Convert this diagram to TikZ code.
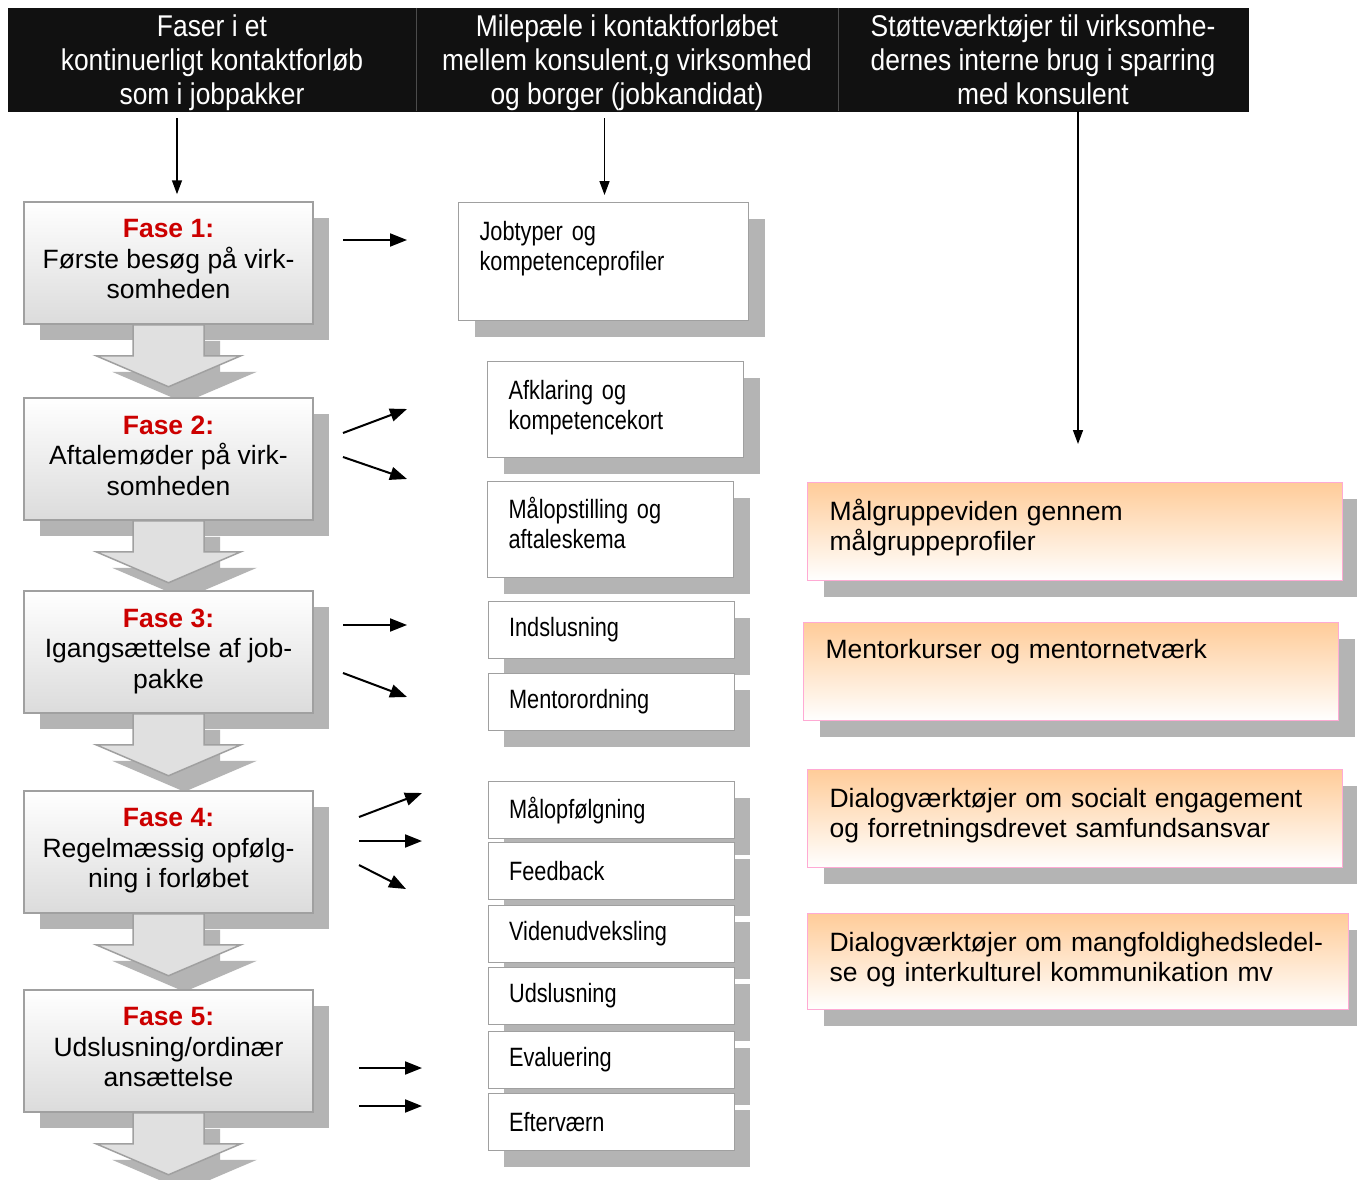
\documentclass[tikz,border=0pt]{standalone}
\usepackage{fontspec}
\setmainfont{Liberation Sans}
\newfontfamily\narrowfont[FakeStretch=0.82, WordSpace=0.8]{Liberation Sans}
\newfontfamily\headfont[FakeStretch=0.88]{Liberation Sans}
\usetikzlibrary{shadows,arrows.meta}

\definecolor{headblack}{HTML}{111111}
\definecolor{fasered}{HTML}{CC0000}
\definecolor{boxline}{HTML}{A0A0A0}
\definecolor{shadowgray}{HTML}{B4B4B4}
\definecolor{peach}{HTML}{FFCC99}
\definecolor{pinkline}{HTML}{FFAAD4}

% block arrow hanging under a phase box
\newcommand{\fasearrow}[1]{%
  \path[blockarrow] (#1.south) ++(-35.5,0) -- ++(0,31) -- ++(-37,0) -- ++(72.5,31)
    -- ++(72.5,-31) -- ++(-37,0) -- ++(0,-31) -- cycle;}

\begin{document}
\begin{tikzpicture}[x=1pt, y=-1pt,
  >={Triangle[length=17pt, width=13pt]},
  shadowed/.style={drop shadow={shadow xshift=16pt, shadow yshift=-16pt, fill=shadowgray, opacity=1}},
  headcell/.style={fill=headblack, draw=headblack, text=white, align=center, minimum height=103pt,
    inner sep=0pt, font=\headfont\fontsize{30}{34}\selectfont},
  fasebox/.style={shadowed, draw=boxline, line width=1.5pt, top color=white, bottom color=black!14,
    minimum width=289pt, minimum height=122pt, inner sep=0pt, align=center,
    font=\fontsize{26.5}{30.5}\selectfont},
  blockarrow/.style={shadowed, draw=boxline, line width=1.5pt, fill=black!12},
  milebox/.style={shadowed, draw=boxline, line width=1.2pt, fill=white, anchor=north west,
    align=left, inner xsep=21pt, inner ysep=0pt, text width=#1,
    font=\narrowfont\fontsize{26.5}{30}\selectfont},
  toolbox/.style={shadowed, draw=pinkline, line width=1.2pt, top color=peach, bottom color=white,
    anchor=north west, align=left, inner xsep=22pt, inner ysep=0pt, minimum height=98pt,
    text width=491pt, font=\fontsize{26.5}{30}\selectfont},
  headarrow/.style={->, >={Triangle[length=14pt, width=10pt]}, line width=1.5pt},
  smallarrow/.style={->, line width=2pt}]

  \path[use as bounding box, fill=white] (0,0) rectangle (1357,1180);

  % column headings
  \node[headcell, minimum width=408pt] (h1) at (212,59.5)
    {\rule{0pt}{28pt}Faser i et\\kontinuerligt kontaktforløb\\som i jobpakker};
  \node[headcell, minimum width=422pt] (h2) at (627,59.5)
    {\rule{0pt}{28pt}Milepæle i kontaktforløbet\\mellem konsulent,g virksomhed\\og borger (jobkandidat)};
  \node[headcell, minimum width=410pt] (h3) at (1043,59.5)
    {\rule{0pt}{22pt}Støtteværktøjer til virksomhe-\\dernes interne brug i sparring\\med konsulent};
  \draw[black!70] (h1.north east) -- (h1.south east);
  \draw[black!70] (h2.north east) -- (h2.south east);

  % phases
  \foreach \i/\yc/\txt in {1/263/{Første besøg på virk-\\somheden},
      2/459/{Aftalemøder på virk-\\somheden},
      3/652/{Igangsættelse af job-\\pakke},
      4/852/{Regelmæssig opfølg-\\ning i forløbet},
      5/1051/{Udslusning/ordinær\\ansættelse}} {
    \node[fasebox] (f\i) at (168.5,\yc) {\textcolor{fasered}{\bfseries Fase \i:}\\\txt\\[-23pt]\mbox{}};
    \fasearrow{f\i}
  }

  % milestones
  \node[milebox=248pt, minimum height=118pt] (m1) at (458,202) {Jobtyper og\\kompetenceprofiler\\[2pt]\mbox{}};
  \node[milebox=214pt, minimum height=96pt] (m2) at (487,361) {Afklaring og\\kompetencekort\\[-20pt]\mbox{}};
  \node[milebox=204pt, minimum height=96pt] (m3) at (487,481) {Målopstilling og\\aftaleskema\\[-16pt]\mbox{}};
  \foreach \y/\txt [count=\n from 4] in {601/Indslusning, 673/Mentorordning, 781/Målopfølgning,
      842/Feedback, 905/Videnudveksling, 967/Udslusning, 1031/Evaluering, 1093/Efterværn}
    \node[milebox=204pt, minimum height=57pt] (m\n) at (487.5,\y) {\txt};

  % support tools
  \node[toolbox] (t1) at (807,482) {Målgruppeviden gennem\\målgruppeprofiler\\[-16pt]\mbox{}};
  \node[toolbox] (t2) at (803,622) {Mentorkurser og mentornetværk\\[16pt]\mbox{}};
  \node[toolbox] (t3) at (807,769) {Dialogværktøjer om socialt engagement\\og forretningsdrevet samfundsansvar\\[-18pt]\mbox{}};
  \node[toolbox, text width=497pt, minimum height=96pt] (t4) at (807,913)
    {Dialogværktøjer om mangfoldighedsledel-\\se og interkulturel kommunikation mv\\[-20pt]\mbox{}};

  % arrows from the headings
  \coordinate (d1) at (177,0);
  \coordinate (d2) at (604.5,0);
  \coordinate (d3) at (1078,444);
  \draw[headarrow, shorten <=7pt, shorten >=7pt] (h1.south -| d1) -- (f1.north -| d1);
  \draw[headarrow, shorten <=7pt, shorten >=7pt] (h2.south -| d2) -- (m1.north -| d2);
  \draw[headarrow] (h3.south -| d3) -- (d3);

  % arrows from phases to milestones
  \foreach \sx/\sy/\ex/\ey [count=\n] in {343/240/407/240, 343/433/407/409, 343/457/407/479,
      343/625/407/625, 343/673/407/697, 359/817/422/793, 359/841/422/841, 359/865/406/889,
      359/1068/422/1068, 359/1106/422/1106} {
    \coordinate (a\n) at (\sx,\sy);
    \coordinate (b\n) at (\ex,\ey);
    \draw[smallarrow] (a\n) -- (b\n);
  }
\end{tikzpicture}
\end{document}
